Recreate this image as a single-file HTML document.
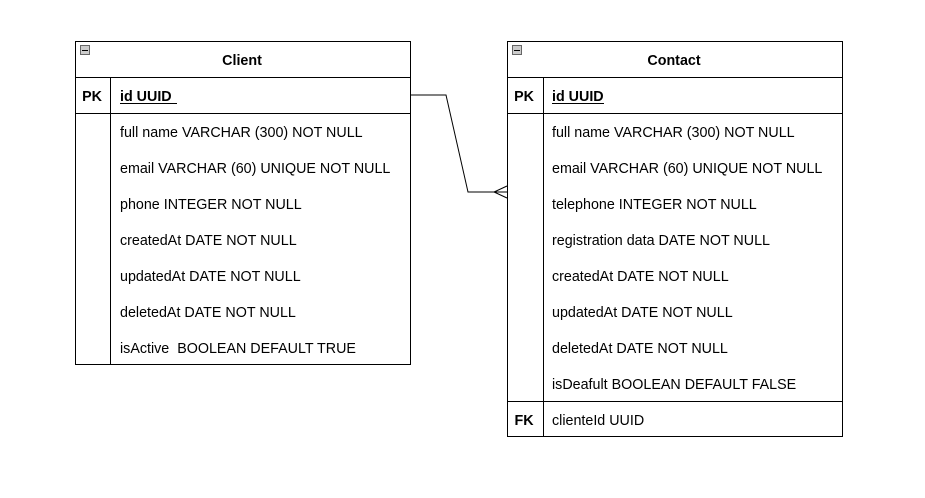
<!DOCTYPE html>
<html><head><style>body{margin:0;background:#fff}svg{display:block}text{font-family:"Liberation Sans",Arial,sans-serif;font-size:14.3px;fill:#000}.b{font-weight:bold}</style></head><body>
<svg width="925" height="498" xmlns="http://www.w3.org/2000/svg">
<rect width="925" height="498" fill="#fff"/>
<g stroke="#000" stroke-width="1" fill="none">
<rect x="75.5" y="41.5" width="335" height="323"/>
<line x1="75" y1="77.5" x2="410" y2="77.5"/>
<line x1="75" y1="113.5" x2="410" y2="113.5"/>
<line x1="110.5" y1="77" x2="110.5" y2="365"/>
<rect x="507.5" y="41.5" width="335" height="395"/>
<line x1="507" y1="77.5" x2="842" y2="77.5"/>
<line x1="507" y1="113.5" x2="842" y2="113.5"/>
<line x1="507" y1="401.5" x2="842" y2="401.5"/>
<line x1="543.5" y1="77" x2="543.5" y2="437"/>
<polyline points="410,95 446,95 468,192 507,192"/>
<polyline points="507,186 494,192 507,198"/>
</g>
<rect x="80.5" y="45.5" width="9" height="9" fill="#ccc" stroke="#666"/><line x1="82" y1="50.5" x2="88" y2="50.5" stroke="#000"/>
<rect x="512.5" y="45.5" width="9" height="9" fill="#ccc" stroke="#666"/><line x1="514" y1="50.5" x2="520" y2="50.5" stroke="#000"/>
<text class="b" x="242" y="65" text-anchor="middle">Client</text>
<text class="b" x="674" y="65" text-anchor="middle">Contact</text>
<text class="b" x="92" y="101" text-anchor="middle">PK</text>
<text class="b" x="120" y="101">id UUID</text>
<line x1="120" y1="103.5" x2="177" y2="103.5" stroke="#000"/>
<text class="b" x="524" y="101" text-anchor="middle">PK</text>
<text class="b" x="552" y="101">id UUID</text>
<line x1="552" y1="103.5" x2="604" y2="103.5" stroke="#000"/>
<text x="120" y="137">full name VARCHAR (300) NOT NULL</text>
<text x="120" y="173">email VARCHAR (60) UNIQUE NOT NULL</text>
<text x="120" y="209">phone INTEGER NOT NULL</text>
<text x="120" y="245">createdAt DATE NOT NULL</text>
<text x="120" y="281">updatedAt DATE NOT NULL</text>
<text x="120" y="317">deletedAt DATE NOT NULL</text>
<text x="120" y="353" xml:space="preserve">isActive  BOOLEAN DEFAULT TRUE</text>
<text x="552" y="137">full name VARCHAR (300) NOT NULL</text>
<text x="552" y="173">email VARCHAR (60) UNIQUE NOT NULL</text>
<text x="552" y="209">telephone INTEGER NOT NULL</text>
<text x="552" y="245">registration data DATE NOT NULL</text>
<text x="552" y="281">createdAt DATE NOT NULL</text>
<text x="552" y="317">updatedAt DATE NOT NULL</text>
<text x="552" y="353">deletedAt DATE NOT NULL</text>
<text x="552" y="389">isDeafult BOOLEAN DEFAULT FALSE</text>
<text class="b" x="524" y="425" text-anchor="middle">FK</text>
<text x="552" y="425">clienteId UUID</text>
</svg>
</body></html>
